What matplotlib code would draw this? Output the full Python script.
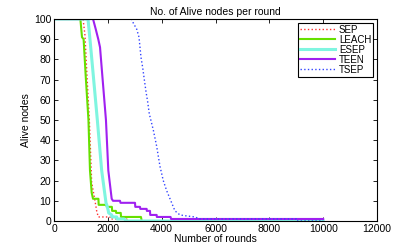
import matplotlib
matplotlib.use("Agg")
import matplotlib.pyplot as plt

plt.rcParams['font.family'] = ['Liberation Sans', 'DejaVu Sans']

# rounds / alive nodes
sep_x = [0, 1080, 1150, 1225, 1313, 1400, 1523, 1585, 1645, 2080, 2090, 2700, 2750, 2800]
sep_y = [100, 100, 92, 72, 50, 19, 10, 5, 2, 2, 1, 1, 0, 0]

leach_x = [0, 980, 1040, 1100, 1177, 1280, 1337, 1400, 1450, 1650, 1660, 1950, 1960, 2150, 2160,
           2300, 2310, 2480, 2490, 3230, 3260]
leach_y = [100, 100, 91, 90, 72, 50, 25, 14, 11, 11, 8, 8, 7, 7, 5, 5, 4, 4, 2, 2, 0]

esep_x = [0, 1263, 1350, 1460, 1610, 1771, 1932, 1960, 2018, 2030, 2143, 2150, 2330, 2340, 2600, 2700, 10000]
esep_y = [100, 100, 88, 72, 50, 25, 9, 8, 5, 4, 3, 2, 2, 1, 1, 0, 0]

teen_x = [0, 1450, 1550, 1645, 1710, 1795, 1930, 2018, 2143, 2192, 2452, 2470, 3009, 3020, 3195, 3205,
          3442, 3450, 3566, 3575, 3814, 3820, 4330, 4350, 10000]
teen_y = [100, 100, 95, 90, 86, 72, 50, 25, 11, 10, 10, 9, 9, 7, 7, 6, 6, 5, 5, 3, 3, 2, 2, 1, 1]

tsep_x = [0, 2880, 2946, 3072, 3158, 3195, 3232, 3294, 3355, 3418, 3480, 3541, 3690, 3814, 3938,
          4060, 4186, 4310, 4432, 4495, 4680, 4930, 5240, 5400, 9000, 9010, 10000]
tsep_y = [100, 100, 98, 95, 91, 86, 81, 76, 70, 64, 59, 53, 45, 37, 27, 20, 15, 11, 7, 5, 3, 2.5, 2, 1, 1, 0, 0]

fig = plt.figure(figsize=(4.15, 2.49), dpi=100)
ax = fig.add_axes([54/415, 1 - 221/249, 323/415, 202/249])

ax.plot(sep_x, sep_y, color='#ff3030', linestyle=':', linewidth=1.0, label='SEP')
ax.plot(leach_x, leach_y, color='#66e000', linewidth=1.5, label='LEACH')
ax.plot(esep_x, esep_y, color='#7ff5e0', linewidth=2.2, label='ESEP')
ax.plot(teen_x, teen_y, color='#a020f0', linewidth=1.5, label='TEEN')
ax.plot(tsep_x, tsep_y, color='#3344ff', linestyle=':', linewidth=1.0, label='TSEP')

ax.set_xlim(0, 12000)
ax.set_ylim(0, 100)
ax.set_xticks(range(0, 12001, 2000))
ax.set_yticks(range(0, 101, 10))
ax.tick_params(direction='in', top=True, right=True, labelsize=7.5, length=3, width=0.6, pad=2)
for s in ax.spines.values():
    s.set_linewidth(0.8)

ax.set_title("No. of Alive nodes per round", fontsize=7.5, pad=3)
ax.set_xlabel("Number of rounds", fontsize=7.5, labelpad=0)
ax.set_ylabel("Alive nodes", fontsize=7.5, labelpad=2)

leg = ax.legend(loc='upper right', fontsize=7, fancybox=False, framealpha=1,
                edgecolor='black', handlelength=3.6, borderpad=0.2,
                labelspacing=0.0, handletextpad=0.4, borderaxespad=0.4)
leg.get_frame().set_linewidth(0.8)

fig.savefig("out.png", dpi=100)
